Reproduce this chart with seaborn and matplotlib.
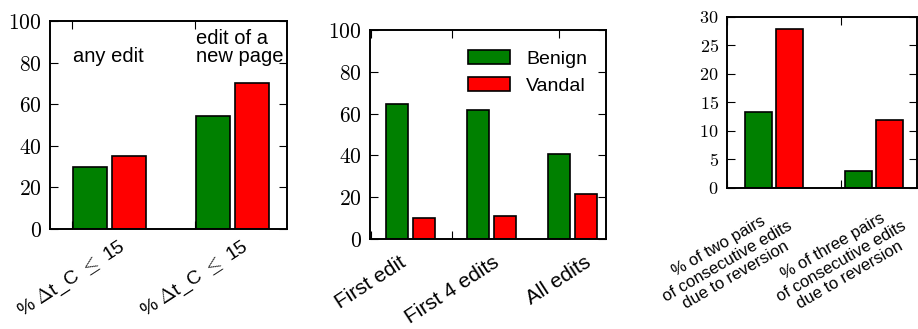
import matplotlib
matplotlib.use("Agg")
import matplotlib.pyplot as plt
from matplotlib.patches import Patch
from matplotlib.ticker import FuncFormatter, MultipleLocator
import pandas as pd
import seaborn as sns

# ---- data -------------------------------------------------------------
groups = ["Benign", "Vandal"]
palette = {"Benign": "#008000", "Vandal": "#ff0000"}

# time-to-next-edit share (any edit / edit of a new page)
dt_cats = ["any edit", "edit of a new page"]
dt_benign = [29.7, 54.3]
dt_vandal = [35.0, 70.1]
dt_ticklabels = [r"% $\Delta$t_C $\leq$ 15", r"% $\Delta$t_C $\leq$ 15"]

# edit-window comparison
win_cats = ["First edit", "First 4 edits", "All edits"]
win_benign = [64.5, 61.8, 40.6]
win_vandal = [10.0, 11.0, 21.5]

# reversion share of consecutive edit pairs
rev_cats = ["two pairs", "three pairs"]
rev_benign = [13.4, 2.9]
rev_vandal = [27.8, 12.0]
rev_ticklabels = ["% of two pairs\nof consecutive edits\ndue to reversion",
                  "% of three pairs\nof consecutive edits\ndue to reversion"]


def long_frame(cats, benign, vandal):
    rows = []
    for c, b, v in zip(cats, benign, vandal):
        rows.append({"cat": c, "group": "Benign", "value": b})
        rows.append({"cat": c, "group": "Vandal", "value": v})
    return pd.DataFrame(rows)


# ---- style ------------------------------------------------------------
sns.set_theme(style="white")
plt.rcParams.update({
    "font.family": ["Liberation Sans", "DejaVu Sans"],
    "mathtext.fontset": "cm",
    "text.color": "black",
    "axes.labelcolor": "black",
    "axes.edgecolor": "black",
    "axes.linewidth": 1.4,
    "xtick.direction": "in",
    "ytick.direction": "in",
    "xtick.top": True,
    "ytick.right": True,
    "xtick.bottom": True,
    "ytick.left": True,
    "xtick.major.size": 6,
    "ytick.major.size": 6,
    "xtick.major.width": 0.8,
    "ytick.major.width": 0.8,
    "xtick.color": "black",
    "ytick.color": "black",
    "xtick.labelcolor": "black",
    "ytick.labelcolor": "black",
})

fig = plt.figure(figsize=(9.18, 3.29), dpi=100)
ax1 = fig.add_axes([0.0545, 0.304, 0.258, 0.632])
ax2 = fig.add_axes([0.403, 0.2736, 0.257, 0.635])
ax3 = fig.add_axes([0.792, 0.4286, 0.207, 0.52])

math_fmt = FuncFormatter(lambda v, p: f"${int(round(v))}$")


def draw(ax, cats, benign, vandal, width, gap):
    df = long_frame(cats, benign, vandal)
    sns.barplot(data=df, x="cat", y="value", hue="group", order=cats,
                hue_order=groups, palette=palette, saturation=1,
                width=width, gap=gap, edgecolor="black", linewidth=1.2,
                errorbar=None, legend=False, ax=ax)
    ax.set_xlabel("")
    ax.set_ylabel("")
    for s in ax.spines.values():
        s.set_visible(True)
        s.set_color("black")
        s.set_linewidth(1.4)
    ax.yaxis.set_major_formatter(math_fmt)


# panel 1
draw(ax1, dt_cats, dt_benign, dt_vandal, width=0.642, gap=0.14)
ax1.set_ylim(0, 100)
ax1.yaxis.set_major_locator(MultipleLocator(20))
ax1.set_xlim(-0.484, 1.443)
ax1.set_xticks([-0.305, 0.695])
ax1.set_xticklabels(dt_ticklabels, rotation=33, ha="center", fontsize=14)
ax1.tick_params(axis="y", labelsize=15.5, pad=6)
ax1.tick_params(axis="x", pad=5)
ax1.text(-0.297, 78.5, "any edit", ha="left", va="bottom", fontsize=14.5)
ax1.text(0.703, 78.5, "edit of a\nnew page", ha="left", va="bottom",
         fontsize=14.5, linespacing=0.9)

# panel 2
draw(ax2, win_cats, win_benign, win_vandal, width=0.654, gap=0.17)
ax2.set_ylim(0, 100)
ax2.yaxis.set_major_locator(MultipleLocator(20))
ax2.set_xlim(-0.5, 2.414)
ax2.set_xticks([-0.488, 0.512, 1.833])
ax2.set_xticklabels(win_cats, rotation=33, ha="center", fontsize=15)
ax2.tick_params(axis="y", labelsize=15.5, pad=6)
ax2.tick_params(axis="x", pad=10)
handles = [Patch(facecolor=palette[g], edgecolor="black", linewidth=1.2, label=g)
           for g in groups]
ax2.legend(handles=handles, loc="upper left", bbox_to_anchor=(0.415, 0.905),
           frameon=False, fontsize=14, borderpad=0, borderaxespad=0,
           handlelength=2.16, handleheight=0.77, handletextpad=0.85,
           labelspacing=0.45)

# panel 3
draw(ax3, rev_cats, rev_benign, rev_vandal, width=0.63, gap=0.143)
ax3.set_ylim(0, 30)
ax3.yaxis.set_major_locator(MultipleLocator(5))
ax3.set_xlim(-0.47, 1.43)
ax3.set_xticks([-0.47, 0.67])
ax3.set_xticklabels(rev_ticklabels, rotation=30, ha="center", fontsize=12,
                    multialignment="center", linespacing=1.15)
ax3.tick_params(axis="y", labelsize=13, pad=6)
ax3.tick_params(axis="x", pad=11)

fig.savefig("out.png", dpi=100)
